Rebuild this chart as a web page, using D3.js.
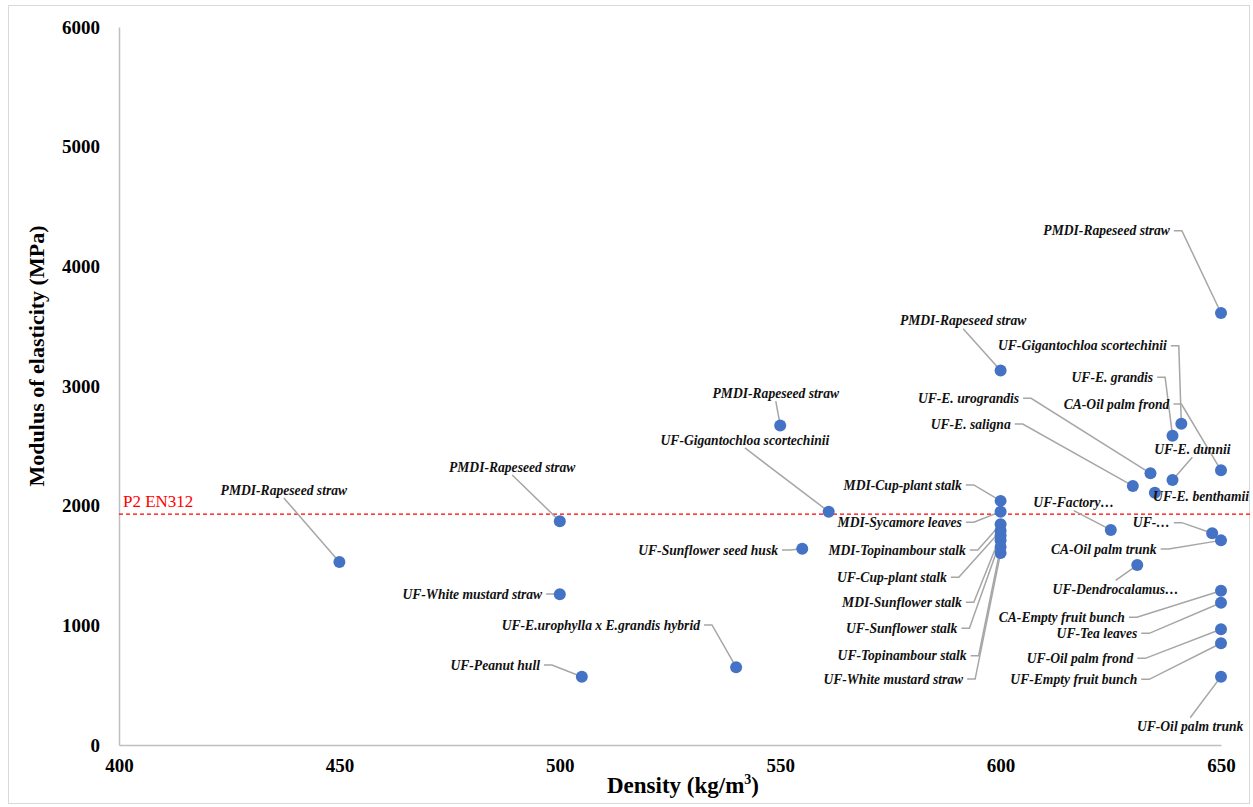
<!DOCTYPE html>
<html>
<head>
<meta charset="utf-8">
<script src="https://cdn.jsdelivr.net/npm/d3@7"></script>
<style>
  body { margin: 0; background: #fff; }
  svg { display: block; }
</style>
</head>
<body>
<svg id="chart"></svg>
<script>
// board / binder - raw material, one entry per point
const names = [
  'PMDI-Rapeseed straw', 'PMDI-Rapeseed straw', 'UF-White mustard straw', 'UF-Peanut hull',
  'UF-E.urophylla x E.grandis hybrid', 'PMDI-Rapeseed straw', 'UF-Gigantochloa scortechinii',
  'UF-Sunflower seed husk', 'PMDI-Rapeseed straw', 'PMDI-Rapeseed straw',
  'UF-Gigantochloa scortechinii', 'UF-E. grandis', 'CA-Oil palm frond', 'UF-E. urograndis',
  'UF-E. saligna', 'UF-E. dunnii', 'UF-E. benthamii', 'UF-Factory…', 'UF-…',
  'CA-Oil palm trunk', 'UF-Dendrocalamus…', 'CA-Empty fruit bunch', 'UF-Tea leaves',
  'UF-Oil palm frond', 'UF-Empty fruit bunch', 'UF-Oil palm trunk',
  'MDI-Cup-plant stalk', 'MDI-Sycamore leaves', 'MDI-Topinambour stalk', 'UF-Cup-plant stalk',
  'MDI-Sunflower stalk', 'UF-Sunflower stalk', 'UF-Topinambour stalk', 'UF-White mustard straw'
]
const density = [
  450, 500, 500, 505, 540, 550, 561, 555, 600, 650,
  641, 639, 650, 634, 630, 639, 635, 625, 648,
  650, 631, 650, 650, 650, 650, 650,
  600, 600, 600, 600, 600, 600, 600, 600
]
const moe = [
  1530, 1870, 1260, 570, 650, 2670, 1950, 1640, 3130, 3610,
  2685, 2585, 2295, 2270, 2165, 2215, 2108, 1797, 1769,
  1710, 1504, 1289, 1189, 967, 850, 571,
  2040, 1950, 1845, 1790, 1750, 1710, 1655, 1605
]
// where each data label sits, in data units
const labelDensity = [
  437.4, 489.2, 496, 495.5, 531.8, 549, 542, 549.5, 591.5, 638.4,
  637.7, 634.6, 638.3, 604.2, 602.3, 643.5, 634.6, 616.6, 638.4,
  635.4, 626.1, 628.2, 631, 630.1, 631, 643,
  591.2, 591.2, 592.1, 587.8, 591.2, 590.2, 592.3, 591.5
]
const labelMoe = [
  2131, 2323, 1262, 668, 1003, 2941, 2549, 1629, 3546, 4298,
  3337, 3073, 2849, 2897, 2682, 2471, 2075, 2025, 1858,
  1638, 1301, 1067, 933, 724, 549, 153,
  2173, 1861, 1629, 1401, 1192, 975, 746, 551
]
const labelAnchor = [
  'middle', 'middle', 'end', 'end', 'end', 'middle', 'middle', 'end', 'middle', 'end',
  'end', 'end', 'end', 'end', 'end', 'middle', 'start', 'middle', 'end',
  'end', 'middle', 'end', 'end', 'end', 'end', 'middle',
  'end', 'end', 'end', 'end', 'end', 'end', 'end', 'end'
]
const xTicks = [400, 450, 500, 550, 600, 650]
const yTicks = [0, 1000, 2000, 3000, 4000, 5000, 6000]
const standardLine = { name: 'P2 EN312', value: 1930 }

const width = 1253
const height = 807
const margin = { left: 119, right: 32, top: 27, bottom: 62 }
const serif = '"Liberation Serif", "Times New Roman", serif'

const svg = d3.select('#chart')
    .attr('width', width)
    .attr('height', height)
    .attr('font-family', serif)

svg.append('rect')
    .attr('x', 8.5).attr('y', 5.5)
    .attr('width', width - 12).attr('height', height - 9)
    .attr('fill', '#fff')
    .attr('stroke', '#d9d9d9')

const x = d3.scaleLinear()
    .domain([400, 650])
    .range([margin.left, width - margin.right])

const y = d3.scaleLinear()
    .domain([0, 6000])
    .range([height - margin.bottom, margin.top])

// axes, Excel style: grey domain line, no tick marks
const xAxis = svg.append('g')
    .attr('transform', `translate(0,${y(0)})`)
    .call(d3.axisBottom(x).tickValues(xTicks).tickSize(0).tickPadding(14))
xAxis.select('.domain').attr('stroke', '#bfbfbf').attr('stroke-width', 1.5)
xAxis.selectAll('text')
    .attr('font-size', 19).attr('font-weight', 'bold').attr('fill', '#000')
    .attr('font-family', serif)

const yAxis = svg.append('g')
    .attr('transform', `translate(${x(400)},0)`)
    .call(d3.axisLeft(y).tickValues(yTicks).tickFormat(d3.format('d')).tickSize(0).tickPadding(19))
yAxis.select('.domain').attr('stroke', '#bfbfbf').attr('stroke-width', 1.5)
yAxis.selectAll('text')
    .attr('font-size', 19).attr('font-weight', 'bold').attr('fill', '#000')
    .attr('font-family', serif)

const xTitle = svg.append('text')
    .attr('x', 683).attr('y', 793)
    .attr('text-anchor', 'middle')
    .attr('font-size', 23).attr('font-weight', 'bold')
xTitle.append('tspan').text('Density (kg/m')
xTitle.append('tspan').attr('font-size', 14).attr('dy', -9).text('3')
xTitle.append('tspan').attr('dy', 9).text(')')

svg.append('text')
    .attr('transform', `translate(44,${(y(0) + y(6000)) / 2 - 30}) rotate(-90)`)
    .attr('text-anchor', 'middle')
    .attr('font-size', 22).attr('font-weight', 'bold')
    .text('Modulus of elasticity (MPa)')

// standard requirement line
svg.append('line')
    .attr('x1', x(400)).attr('x2', width - 3)
    .attr('y1', y(standardLine.value)).attr('y2', y(standardLine.value))
    .attr('stroke', '#ff0000').attr('stroke-width', 1.3)
    .attr('stroke-dasharray', '4,3')

svg.append('text')
    .attr('x', x(400) + 4).attr('y', y(standardLine.value) - 7)
    .attr('fill', '#ff0000').attr('font-size', 17)
    .attr('font-family', serif)
    .text(standardLine.name)

const points = names.map((n, i) => ({
    name: n, density: density[i], moe: moe[i],
    lx: labelDensity[i], ly: labelMoe[i], anchor: labelAnchor[i]
}))

function leader(d) {
    const px = x(d.density), py = y(d.moe)
    const lx = x(d.lx), ly = y(d.ly)
    if (d.anchor === 'end') {
        return [[lx + 4, ly], [lx + 12, ly], [px, py]]
    }
    if (d.anchor === 'middle') {
        const sy = py > ly ? ly + 8 : ly - 9
        return [[lx, sy], [px, py]]
    }
    return null
}

svg.append('g')
    .selectAll('path')
    .data(points.filter(d => leader(d)))
    .join('path')
    .attr('d', d => d3.line()(leader(d)))
    .attr('fill', 'none')
    .attr('stroke', '#a6a6a6')
    .attr('stroke-width', 1.5)

svg.append('g')
    .selectAll('circle')
    .data(points)
    .join('circle')
    .attr('cx', d => x(d.density))
    .attr('cy', d => y(d.moe))
    .attr('r', 6)
    .attr('fill', '#4472c4')

svg.append('g')
    .selectAll('text')
    .data(points)
    .join('text')
    .attr('x', d => x(d.lx))
    .attr('y', d => y(d.ly))
    .attr('dy', '0.35em')
    .attr('text-anchor', d => d.anchor)
    .attr('font-size', 13.6)
    .attr('font-weight', 'bold')
    .attr('font-style', 'italic')
    .attr('fill', '#111')
    .text(d => d.name)
</script>
</body>
</html>
